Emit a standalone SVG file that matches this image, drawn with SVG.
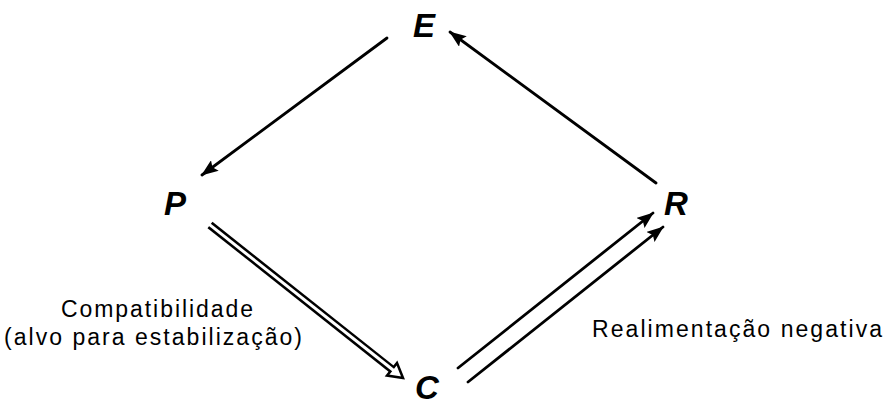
<svg xmlns="http://www.w3.org/2000/svg" width="887" height="406" viewBox="0 0 887 406">
<defs>
<style>
.node{font-family:"Liberation Sans",Arial,sans-serif;font-weight:bold;font-style:italic;font-size:33px;fill:#000}
.lbl{font-family:"Liberation Sans",Arial,sans-serif;font-size:23px;fill:#000}
.ln{stroke:#000;stroke-width:2.8;fill:none;stroke-linecap:round}
</style>
<marker id="ah" viewBox="0 0 17 13" refX="16" refY="6.5" markerWidth="17" markerHeight="13" markerUnits="userSpaceOnUse" orient="auto">
<path d="M0,0 L17,6.5 L0,13 L3,6.5 Z" fill="#000"/>
</marker>
</defs>
<rect width="887" height="406" fill="#fff"/>
<g id="connectors">
<line class="ln" x1="387" y1="38" x2="202" y2="175" marker-end="url(#ah)"/>
<line class="ln" x1="656" y1="183" x2="450" y2="32" marker-end="url(#ah)"/>
<line class="ln" x1="458" y1="368" x2="653" y2="213" marker-end="url(#ah)"/>
<line class="ln" x1="468" y1="382" x2="663" y2="227" marker-end="url(#ah)"/>
<g id="pc-arrow">
<line x1="210" y1="225" x2="392" y2="369.3" stroke="#000" stroke-width="8"/>
<polygon points="403,378 387,375.6 397,363" fill="#fff" stroke="#000" stroke-width="2.5" stroke-linejoin="miter"/>
<line x1="208" y1="223.4" x2="394" y2="370.8" stroke="#fff" stroke-width="3"/>
</g>
</g>
<g id="node-E"><text class="node" x="413" y="37">E</text></g>
<g id="node-P"><text class="node" x="164" y="215">P</text></g>
<g id="node-R"><text class="node" x="664" y="215">R</text></g>
<g id="node-C"><text class="node" x="415" y="399">C</text></g>
<g id="label-compat">
<text class="lbl" x="253" y="317" text-anchor="end" textLength="192" lengthAdjust="spacing">Compatibilidade</text>
<text class="lbl" x="302" y="345" text-anchor="end" textLength="298" lengthAdjust="spacing">(alvo para estabilização)</text>
</g>
<g id="label-real">
<text class="lbl" x="592" y="337" textLength="290" lengthAdjust="spacing">Realimentação negativa</text>
</g>
</svg>
